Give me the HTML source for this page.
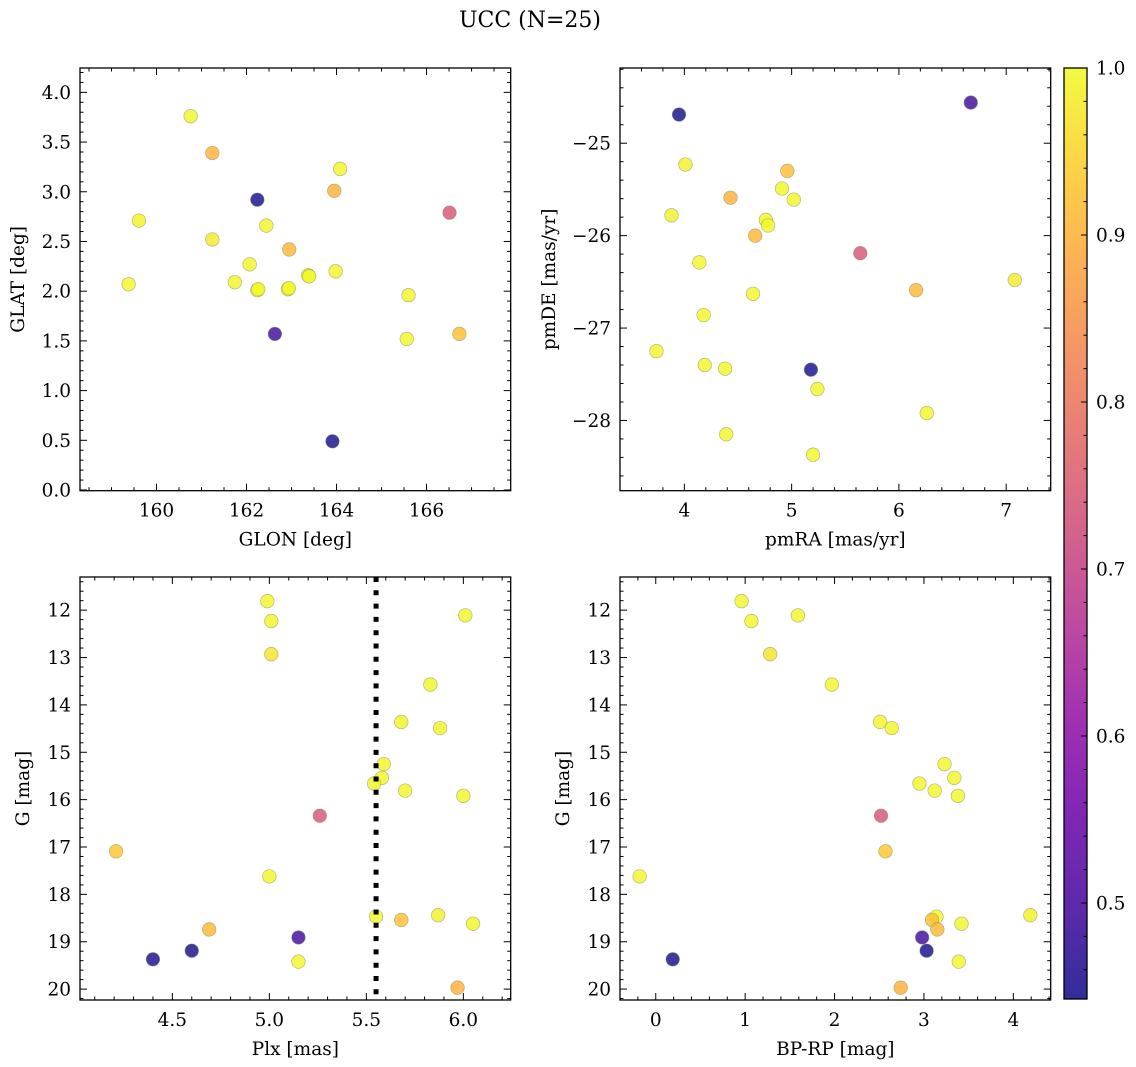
<!DOCTYPE html>
<html><head><meta charset="utf-8">
<style>
html,body{margin:0;padding:0;background:#fff;}
svg{display:block;font-family:"DejaVu Serif","Liberation Serif",serif;}
</style></head>
<body>
<svg id="fig" width="1136" height="1067" viewBox="0 0 1136 1067" xmlns="http://www.w3.org/2000/svg">
<rect width="1136" height="1067" fill="#fff"/>
<text x="530" y="27" text-anchor="middle" font-size="22">UCC (N=25)</text>
<defs>
<linearGradient id="cbgrad" x1="0" y1="1" x2="0" y2="0">
<stop offset="0" stop-color="#0d0887"/><stop offset="0.1" stop-color="#41049d"/><stop offset="0.2" stop-color="#6a00a8"/><stop offset="0.3" stop-color="#8f0da4"/><stop offset="0.4" stop-color="#b12a90"/><stop offset="0.5" stop-color="#cc4778"/><stop offset="0.6" stop-color="#e16462"/><stop offset="0.7" stop-color="#f2844b"/><stop offset="0.8" stop-color="#fca636"/><stop offset="0.9" stop-color="#fcce25"/><stop offset="1" stop-color="#f0f921"/>
</linearGradient>
</defs>
<g id="panels"></g>
</svg>
<script>
// ---- data ----
const glon = [160.76,161.24,159.61,159.38,161.24,162.24,162.44,162.07,161.74,162.24,162.26,162.95,162.92,162.94,163.37,163.39,163.98,163.95,164.08,162.63,163.91,165.60,165.56,166.73,166.51];
const glat = [3.76,3.39,2.71,2.07,2.52,2.92,2.66,2.27,2.09,2.01,2.02,2.42,2.02,2.03,2.16,2.15,2.20,3.01,3.23,1.57,0.49,1.96,1.52,1.57,2.79];
const cGal = [0.995,0.90,0.99,0.995,0.98,0.445,0.995,0.995,0.995,1.0,1.0,0.91,1.0,1.0,1.0,1.0,0.995,0.90,0.995,0.49,0.445,0.995,0.995,0.92,0.74];

const pmra = [3.95,6.67,4.01,4.96,4.91,4.43,5.02,3.88,4.76,4.78,4.66,5.64,4.14,7.08,6.16,4.64,4.18,3.74,4.19,4.38,5.18,5.24,6.26,4.39,5.20];
const pmde = [-24.69,-24.56,-25.23,-25.30,-25.49,-25.59,-25.61,-25.78,-25.83,-25.89,-26.00,-26.19,-26.29,-26.48,-26.59,-26.63,-26.86,-27.25,-27.40,-27.44,-27.45,-27.66,-27.92,-28.15,-28.37];
const cPm = [0.445,0.49,0.99,0.92,0.995,0.90,0.995,0.99,0.995,1.0,0.91,0.74,0.995,0.98,0.91,0.995,0.995,0.995,0.995,0.995,0.445,0.995,0.995,0.995,0.995];

const plx = [4.99,5.01,5.01,6.01,5.83,5.68,5.88,5.59,5.58,5.54,5.70,6.00,5.26,4.21,5.00,5.55,5.68,5.87,6.05,4.69,5.15,4.60,4.40,5.15,5.97];
const gmag = [11.81,12.23,12.93,12.11,13.57,14.36,14.49,15.25,15.54,15.66,15.81,15.92,16.34,17.09,17.62,18.47,18.54,18.44,18.62,18.74,18.91,19.19,19.37,19.42,19.97];
const bprp = [0.96,1.07,1.28,1.59,1.97,2.51,2.64,3.23,3.34,2.95,3.12,3.38,2.52,2.57,-0.18,3.14,3.09,4.19,3.42,3.15,2.98,3.03,0.19,3.39,2.74];
const cG = [0.995,0.995,0.97,0.995,0.995,0.995,0.995,0.995,0.995,0.995,0.995,0.995,0.74,0.93,0.995,1.0,0.92,0.99,0.995,0.91,0.49,0.445,0.445,0.995,0.90];

const plxLine = [5.55];
const cbTicks = [0.5,0.6,0.7,0.8,0.9,1.0];
const cRange = [0.4425,1.0];

// ---- helpers ----
const NS="http://www.w3.org/2000/svg";
const root=document.getElementById('panels');
function mk(tag,attrs,parent){const e=document.createElementNS(NS,tag);for(const k in attrs)e.setAttribute(k,attrs[k]);(parent||root).appendChild(e);return e;}
const stops=[[13,8,135],[65,4,157],[106,0,168],[143,13,164],[177,42,144],[204,71,120],[225,100,98],[242,132,75],[252,166,54],[252,206,37],[240,249,33]];
function plasma(v){let t=(v-cRange[0])/(cRange[1]-cRange[0]);t=Math.max(0,Math.min(1,t));const f=t*10,i=Math.min(9,Math.floor(f)),r=f-i;const a=stops[i],b=stops[i+1];return 'rgb('+[0,1,2].map(k=>Math.round(a[k]+(b[k]-a[k])*r)).join(',')+')';}
function fmt(v,d){const s=Math.abs(v).toFixed(d);return (v<0?'\u2212':'')+s;}

function panel(o){
  const g=mk('g',{});
  
  
  const sx=v=>o.L+(v-o.x0)/(o.x1-o.x0)*(o.R-o.L);
  const sy=v=>o.inv? o.T+(v-o.y0)/(o.y1-o.y0)*(o.B-o.T) : o.B-(v-o.y0)/(o.y1-o.y0)*(o.B-o.T);
  const pg=mk('g',{},g);
  
  
  for(let i=0;i<o.xs.length;i++){
    const c=mk('circle',{cx:sx(o.xs[i]),cy:sy(o.ys[i]),r:6.8,fill:plasma(o.cs[i]),'fill-opacity':0.8,stroke:'#8a8a6a','stroke-opacity':0.6,'stroke-width':0.7},pg);
    
    
  }
  if(o.vline){
    const l=mk('line',{x1:sx(o.vline),x2:sx(o.vline),y1:o.T,y2:o.B,stroke:'#000','stroke-width':5,'stroke-dasharray':'5 8.3'},g);
    
    
  }
  const fr=mk('rect',{x:o.L,y:o.T,width:o.R-o.L,height:o.B-o.T,fill:'none',stroke:'#000','stroke-width':1.3},g);
  
  
  const tg=mk('g',{stroke:'#000','stroke-width':1},g);
  
  
  const eps=1e-6;
  for(let v=Math.ceil(o.x0/o.xmin-eps)*o.xmin; v<=o.x1+eps; v+=o.xmin){
    const X=sx(v); const major=Math.abs(v/o.xmaj-Math.round(v/o.xmaj))<1e-4; const len=major?7:3.5;
    mk('line',{x1:X,x2:X,y1:o.B,y2:o.B-len},tg); mk('line',{x1:X,x2:X,y1:o.T,y2:o.T+len},tg);
  }
  for(let v=Math.ceil(o.y0/o.ymin-eps)*o.ymin; v<=o.y1+eps; v+=o.ymin){
    const Y=sy(v); const major=Math.abs(v/o.ymaj-Math.round(v/o.ymaj))<1e-4; const len=major?7:3.5;
    mk('line',{x1:o.L,x2:o.L+len,y1:Y,y2:Y},tg); mk('line',{x1:o.R,x2:o.R-len,y1:Y,y2:Y},tg);
  }
  o.xt.forEach(v=>{const t=mk('text',{x:sx(v),y:o.B+26,'text-anchor':'middle','font-size':18.5},g);t.textContent=fmt(v,o.xd);
    
    });
  o.yt.forEach(v=>{const t=mk('text',{x:o.L-9,y:sy(v)+6.5,'text-anchor':'end','font-size':18.5},g);t.textContent=fmt(v,o.yd);
    
    });
  const xl=mk('text',{x:(o.L+o.R)/2,y:o.B+55,'text-anchor':'middle','font-size':18.5},g);xl.textContent=o.xlabel;
  
  
  const yx=o.ylx, yy=(o.T+o.B)/2;
  const yl=mk('text',{x:yx,y:yy,'text-anchor':'middle','font-size':18.5,transform:'rotate(-90 '+yx+' '+yy+')'},g);yl.textContent=o.ylabel;
  
  
}

panel({name:'glon-glat-panel',L:80,R:510.7,T:68,B:490.7,x0:158.30,x1:167.87,y0:-0.007,y1:4.245,inv:false,
  xs:glon,ys:glat,cs:cGal,xmaj:2,xmin:0.5,ymaj:0.5,ymin:0.1,xt:[160,162,164,166],yt:[0,0.5,1,1.5,2,2.5,3,3.5,4],xd:0,yd:1,
  xlabel:'GLON [deg]',ylabel:'GLAT [deg]',ylx:24});
panel({name:'pm-panel',L:620,R:1050.7,T:68,B:490.7,x0:3.40,x1:7.415,y0:-28.76,y1:-24.186,inv:false,
  xs:pmra,ys:pmde,cs:cPm,xmaj:1,xmin:0.2,ymaj:1,ymin:0.2,xt:[4,5,6,7],yt:[-25,-26,-27,-28],xd:0,yd:0,
  xlabel:'pmRA [mas/yr]',ylabel:'pmDE [mas/yr]',ylx:555});
panel({name:'plx-g-panel',L:80,R:510.7,T:577,B:1000,x0:4.024,x1:6.244,y0:11.30,y1:20.23,inv:true,
  xs:plx,ys:gmag,cs:cG,xmaj:0.5,xmin:0.1,ymaj:1,ymin:0.2,xt:[4.5,5,5.5,6],yt:[12,13,14,15,16,17,18,19,20],xd:1,yd:0,
  xlabel:'Plx [mas]',ylabel:'G [mag]',ylx:29,vline:plxLine[0]});
panel({name:'cmd-panel',L:620,R:1050.7,T:577,B:1000,x0:-0.40,x1:4.418,y0:11.30,y1:20.23,inv:true,
  xs:bprp,ys:gmag,cs:cG,xmaj:1,xmin:0.2,ymaj:1,ymin:0.2,xt:[0,1,2,3,4],yt:[12,13,14,15,16,17,18,19,20],xd:0,yd:0,
  xlabel:'BP-RP [mag]',ylabel:'G [mag]',ylx:569});

const cb=mk('g',{});


const cbT=68,cbB=999,cbL=1064,cbR=1087;
const cy=v=>cbB-(v-cRange[0])/(cRange[1]-cRange[0])*(cbB-cbT);
mk('rect',{x:cbL,y:cbT,width:cbR-cbL,height:cbB-cbT,fill:'url(#cbgrad)','fill-opacity':0.85,stroke:'#000','stroke-width':1.3},cb);
for(let v=0.46;v<=1.0001;v+=0.02){const Y=cy(v);const major=Math.abs(v*10-Math.round(v*10))<1e-3;mk('line',{x1:cbR,x2:cbR-(major?6:3.5),y1:Y,y2:Y,stroke:'#000','stroke-width':1},cb);}
cbTicks.forEach(v=>{const t=mk('text',{x:cbR+9,y:cy(v)+6.5,'font-size':18.5},cb);t.textContent=v.toFixed(1);
  
  });
</script>
</body></html>
